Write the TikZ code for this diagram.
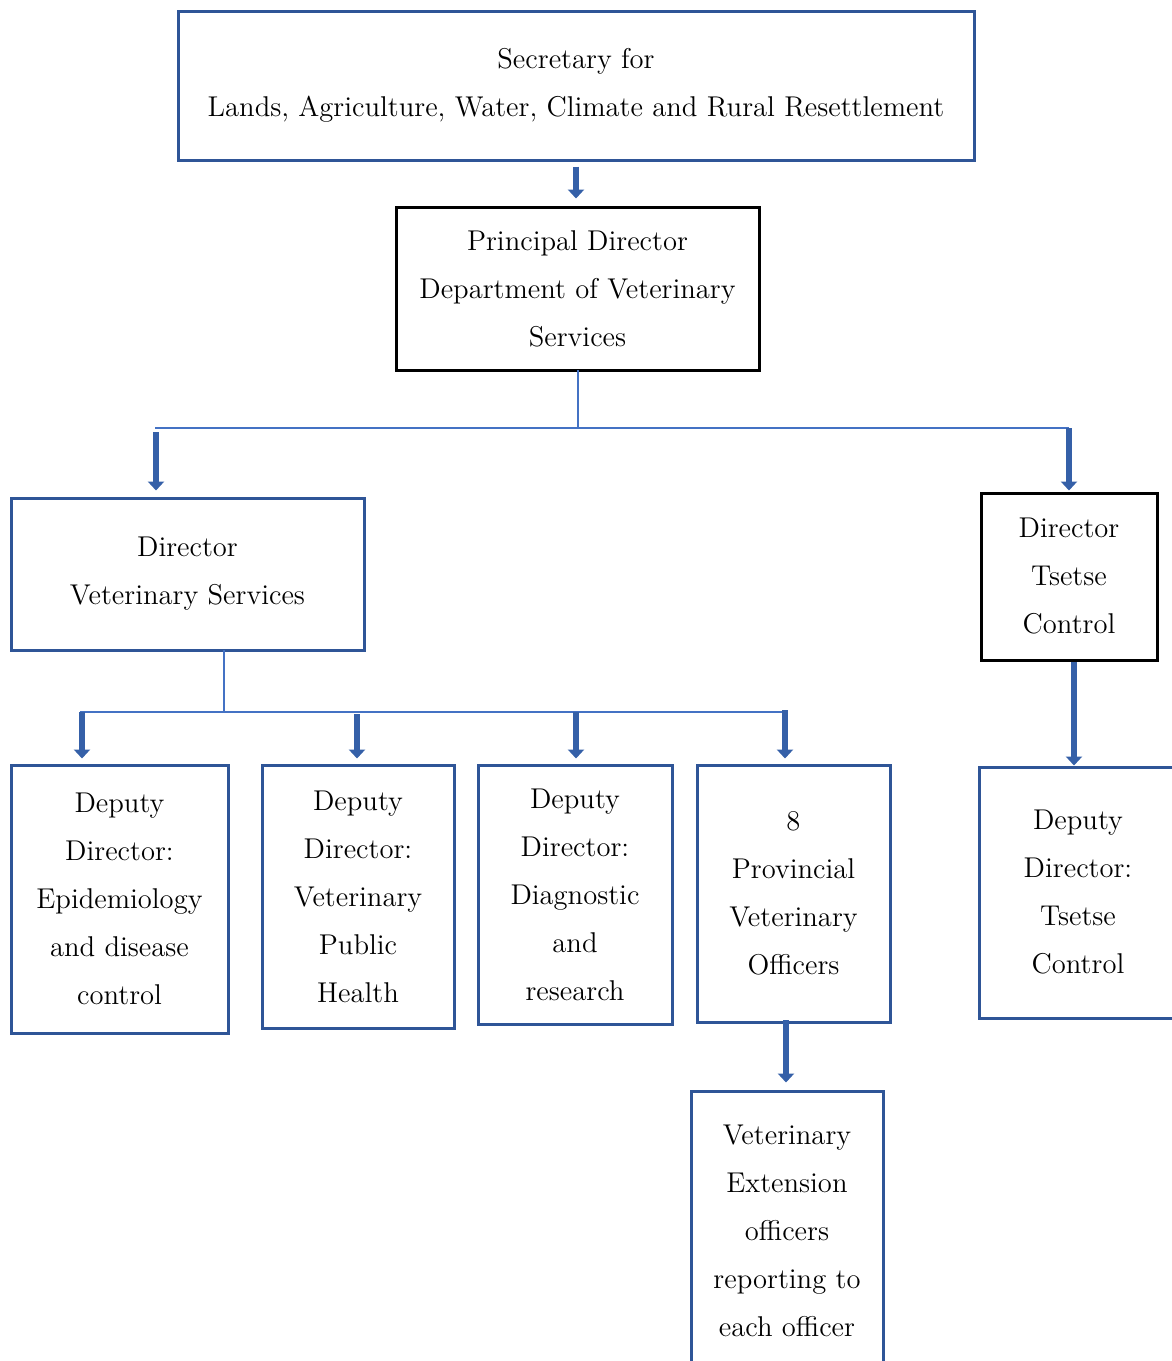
\documentclass[tikz,border=0pt]{standalone}
\usetikzlibrary{arrows.meta,calc}
\definecolor{boxblue}{HTML}{2F5597}
\definecolor{linkblue}{HTML}{4472C4}
\definecolor{arrblue}{HTML}{3560A8}
\tikzset{
  txt/.style={font=\fontsize{14.3}{24}\selectfont, align=center, inner sep=0pt},
  bluebox/.style={txt, draw=boxblue, line width=1.5pt},
  blackbox/.style={txt, draw=black, line width=1.5pt},
  link/.style={draw=linkblue, line width=1pt},
  blockarrow/.style={draw=arrblue, line width=2.6pt, -{Triangle[width=8pt,length=4.5pt]}},
}
\begin{document}
\begin{tikzpicture}[x=0.5pt,y=-0.5pt]
\useasboundingbox (0,0) rectangle (1172,1361);
\clip (0,0) rectangle (1172,1361);
% boxes
\node[bluebox, minimum width=398pt, minimum height=74.5pt] (sec) at (576,85.5)
  {Secretary for\\Lands, Agriculture, Water, Climate and Rural Resettlement};
\node[blackbox, minimum width=181.5pt, minimum height=81.5pt] (pd) at (577.5,288.5)
  {Principal Director\\Department of Veterinary\\Services};
\node[bluebox, minimum width=176.5pt, minimum height=76pt] (dvs) at (187.5,574)
  {Director\\Veterinary Services};
\node[blackbox, minimum width=88pt, minimum height=83.5pt] (dtc) at (1069,576.5)
  {Director\\Tsetse\\Control};
\node[bluebox, minimum width=108.5pt, minimum height=134pt] (d1) at (119.5,899)
  {Deputy\\Director:\\Epidemiology\\and disease\\control};
\node[bluebox, minimum width=96pt, minimum height=131.5pt] (d2) at (358,896.5)
  {Deputy\\Director:\\Veterinary\\Public\\Health};
\node[bluebox, minimum width=97pt, minimum height=129.5pt] (d3) at (575,894.5)
  {Deputy\\Director:\\Diagnostic\\and\\research};
\node[bluebox, minimum width=96.5pt, minimum height=128.5pt] (d4) at (793.5,893.5)
  {8\\Provincial\\Veterinary\\Officers};
\node[bluebox, minimum width=99pt, minimum height=125.5pt] (d5) at (1078,892.5)
  {Deputy\\Director:\\Tsetse\\Control};
\node[bluebox, minimum width=96pt, minimum height=140pt] (vx) at (787,1231)
  {Veterinary\\Extension\\officers\\reporting to\\each officer};
% coordinates for the connector buses
\coordinate (pdb) at (577.5,370);
\coordinate (busA) at (577.5,428);
\coordinate (busL) at (155,428);
\coordinate (busR) at (1069,428);
\coordinate (aL) at (156,432);
\coordinate (dvsb) at (224,650);
\coordinate (busB) at (224,712);
\coordinate (busBL) at (80,712);
\coordinate (busBR) at (787,712);
\coordinate (b1) at (82,712);
\coordinate (b2) at (357,714);
\coordinate (b3) at (576,712);
\coordinate (b4) at (785,710);
\coordinate (tcb) at (1074,660);
\coordinate (d4b) at (786,1020);
% connectors
\draw[blockarrow, shorten <=2.5pt, shorten >=3.5pt] (sec.south) -- (sec.south |- pd.north);
\draw[link] (pdb) -- (busA);
\draw[link] (busL) -- (busR);
\draw[blockarrow, shorten >=3pt] (aL) -- (aL |- dvs.north);
\draw[blockarrow, shorten >=0.5pt] (busR) -- (dtc.north);
\draw[link] (dvsb) -- (busB);
\draw[link] (busBL) -- (busBR);
\draw[blockarrow, shorten >=2.5pt] (b1) -- (b1 |- d1.north);
\draw[blockarrow, shorten >=2.5pt] (b2) -- (b2 |- d2.north);
\draw[blockarrow, shorten >=2.5pt] (b3) -- (b3 |- d3.north);
\draw[blockarrow, shorten >=2.5pt] (b4) -- (b4 |- d4.north);
\draw[blockarrow, shorten <=1pt, shorten >=0pt] (tcb) -- (tcb |- d5.north);
\draw[blockarrow, shorten >=3.5pt] (d4b) -- (d4b |- vx.north);
\end{tikzpicture}
\end{document}
